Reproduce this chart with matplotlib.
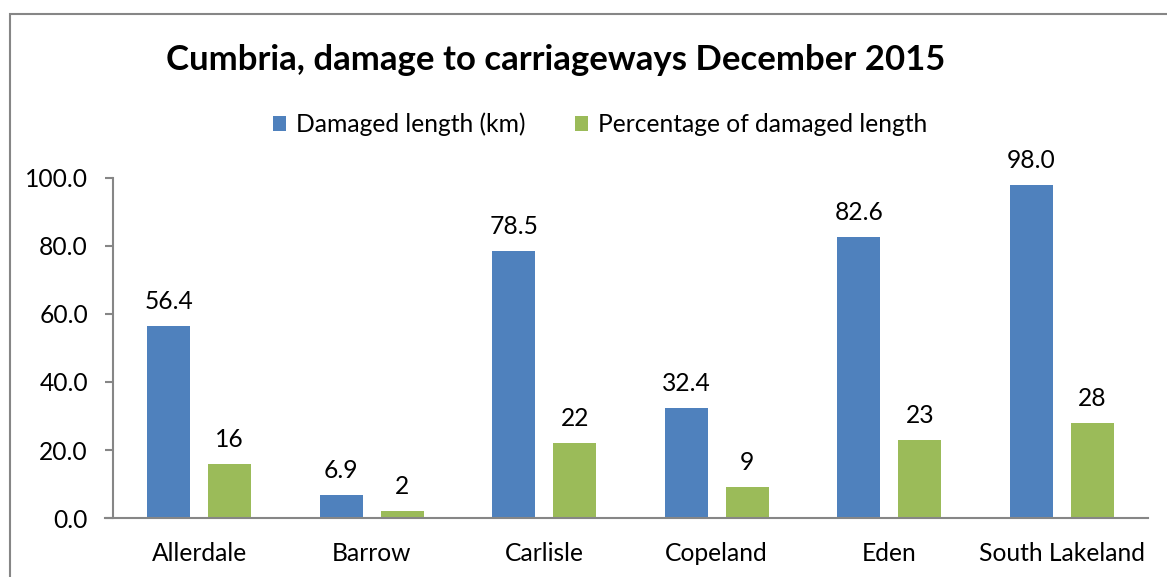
import matplotlib
matplotlib.use("Agg")
import matplotlib.pyplot as plt
from matplotlib.patches import Rectangle
import numpy as np

categories = ["Allerdale", "Barrow", "Carlisle", "Copeland", "Eden", "South Lakeland"]
damaged_km = [56.4, 6.9, 78.5, 32.4, 82.6, 98.0]
damaged_pct = [16, 2, 22, 9, 23, 28]
km_labels = ["56.4", "6.9", "78.5", "32.4", "82.6", "98.0"]
pct_labels = ["16", "2", "22", "9", "23", "28"]
yticks = [0, 20, 40, 60, 80, 100]

plt.rcParams['font.family'] = ['Lato', 'DejaVu Sans']

W, H = 1167, 577
fig = plt.figure(figsize=(W / 100, H / 100), dpi=100)
ax = fig.add_axes([113 / W, 1 - 518 / H, (1148 - 113) / W, (518 - 178) / H])

blue = "#4f81bd"
green = "#9bbb59"
fs = 17.7
x = np.arange(len(categories))
bw = 0.25
off = 0.177
b1 = ax.bar(x - off, damaged_km, bw, color=blue, label="Damaged length (km)")
b2 = ax.bar(x + off, damaged_pct, bw, color=green, label="Percentage of damaged length")

for bars, labs in ((b1, km_labels), (b2, pct_labels)):
    for rect, lab in zip(bars, labs):
        ax.annotate(lab, (rect.get_x() + rect.get_width() / 2, rect.get_height()),
                    xytext=(0, 13), textcoords="offset pixels", ha="center", va="bottom",
                    fontsize=fs, color="#000000")

ax.set_xlim(-0.5, len(categories) - 0.5)
ax.set_ylim(0, 100)
ax.set_yticks(yticks)
ax.set_yticklabels([f"{v:.1f}" for v in yticks], fontsize=fs)
ax.set_xticks(x)
ax.set_xticklabels(categories, fontsize=fs)
ax.tick_params(axis="x", length=0, pad=17)
ax.tick_params(axis="y", length=6, width=1.5, color="#868686", pad=12)
for s in ["top", "right"]:
    ax.spines[s].set_visible(False)
for s in ["left", "bottom"]:
    ax.spines[s].set_color("#868686")
    ax.spines[s].set_linewidth(1.5)
ax.spines["bottom"].set_bounds(-0.5 - 8 / 172.5, len(categories) - 0.5)

fig.text(556 / W, 1 - 60 / H, "Cumbria, damage to carriageways December 2015",
         ha="center", va="center", fontsize=25, fontweight="bold")

leg = fig.legend(handles=[b1, b2], loc="center", bbox_to_anchor=(600 / W, 1 - 124 / H),
                 ncol=2, frameon=False, fontsize=fs, handlelength=0.55, handleheight=0.55,
                 handletextpad=0.4, columnspacing=2.0)

fig.patches.append(Rectangle((10 / W, -0.1), 1.2, 1 - 14 / H + 0.1, transform=fig.transFigure,
                             fill=False, edgecolor="#868686", linewidth=1.5))

fig.savefig("out.png", dpi=100)
